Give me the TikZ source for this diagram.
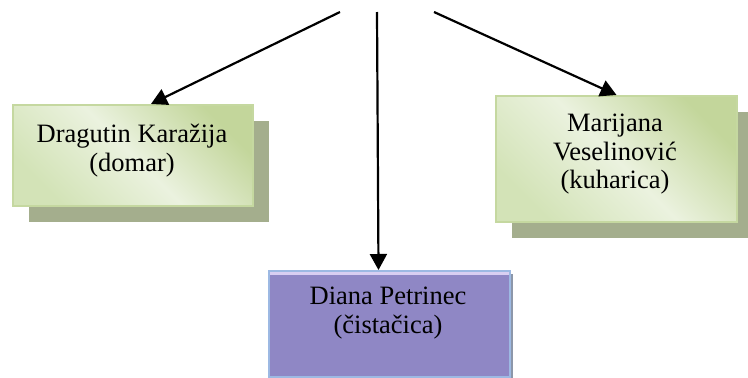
\documentclass[tikz,border=0pt]{standalone}
\usepackage{fontspec}
\setmainfont{Liberation Serif}
\usetikzlibrary{arrows.meta,calc,shadows}
\definecolor{zelenaSvj}{HTML}{EBF2DF}
\definecolor{zelenaSre}{HTML}{D3E3B7}
\definecolor{zelenaTam}{HTML}{C3D69B}
\definecolor{zelenaRub}{HTML}{C5D8A0}
\definecolor{zelenaSjena}{HTML}{A4AE8D}
\definecolor{ljubicasta}{HTML}{8F87C5}
\definecolor{lavanda}{HTML}{D9CFF2}
\definecolor{plaviRub}{HTML}{9DB9E3}
\definecolor{plavaSjena}{HTML}{8C97AA}

\begin{document}
\begin{tikzpicture}[x=1pt, y=-1pt,
		zelenaKutija/.style={draw=zelenaRub, line width=2pt, anchor=north west, inner sep=0pt,
			top color=zelenaTam, bottom color=zelenaSre, middle color=zelenaSvj, shading angle=-45,
			drop shadow={shadow xshift=16pt, shadow yshift=-16pt, fill=zelenaSjena, opacity=1}},
		ljubicastaKutija/.style={draw=plaviRub, line width=2pt, anchor=north west, inner sep=0pt,
			fill=ljubicasta,
			path picture={\fill[lavanda] (path picture bounding box.north west) rectangle
				([yshift=-4pt]path picture bounding box.north east);},
			drop shadow={shadow xshift=3pt, shadow yshift=-3pt, fill=plavaSjena, opacity=1}},
		tekst/.style={anchor=north, inner sep=0pt, align=center,
			font=\fontsize{26.5}{28.5}\selectfont},
		strelica/.style={line width=2.2pt, -{Triangle[length=16pt, width=17pt]}}]
			%%%%% START %%%%%
			
			\useasboundingbox (0, 0) rectangle (748, 378);
			
			\coordinate (vrhL) at (340, 12);
			\coordinate (vrhS) at (377, 12);
			\coordinate (vrhD) at (434, 12);
			
			\node[zelenaKutija, minimum width=240pt, minimum height=101pt] (domar) at (12, 104) {};
			\node[zelenaKutija, minimum width=241pt, minimum height=126pt] (kuharica) at (495, 95) {};
			\node[ljubicastaKutija, minimum width=241pt, minimum height=106pt] (cistacica) at (268, 270) {};
			
			\node[tekst] (domarTxt) at (132, 124) {Dragutin Karažija\\(domar)};
			\node[tekst] (kuharicaTxt) at (615, 114) {Marijana\\Veselinović\\(kuharica)};
			\node[tekst] (cistacicaTxt) at (388, 287) {Diana Petrinec\\(čistačica)};
			
			\draw[strelica] (vrhL) -- ($(domar.north)+(18, 0)$);
			\draw[strelica] (vrhS) -- ($(cistacica.north)+(-11, 0)$);
			\draw[strelica] (vrhD) -- (kuharica.north);
			
			%%%%% END %%%%%
		\end{tikzpicture}
\end{document}
